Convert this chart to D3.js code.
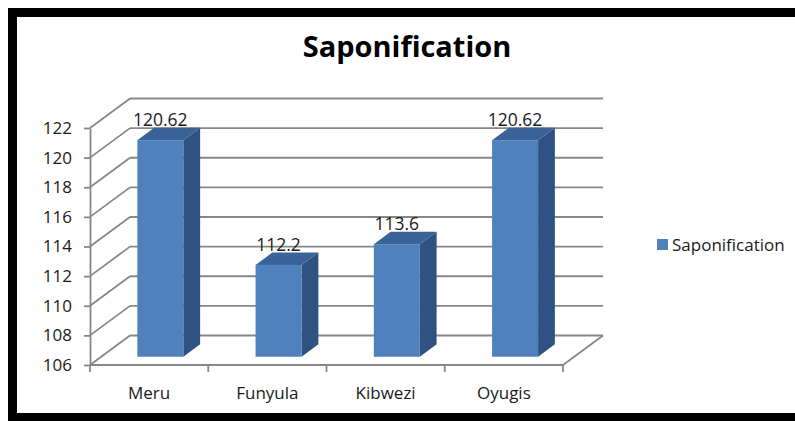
<!DOCTYPE html>
<html>
<head>
<meta charset="utf-8">
<script src="https://cdn.jsdelivr.net/npm/d3@7"></script>
<style>
  html, body { margin: 0; padding: 0; background: #fff; }
  svg { display: block; }
  text { font-family: "Open Sans", Lato, sans-serif; }
</style>
</head>
<body>
<svg id="chart" width="795" height="421"></svg>
<script>
// chart data
var categories = ['Meru', 'Funyula', 'Kibwezi', 'Oyugis'];
var values = [120.62, 112.2, 113.6, 120.62];
var valueLabels = ['120.62', '112.2', '113.6', '120.62'];
var yTicks = [106, 108, 110, 112, 114, 116, 118, 120, 122];
var seriesName = 'Saponification';
var chartTitle = 'Saponification';

var svg, x, y, depth, barFront, barBack, barWidth, gridColor, textColor, bars;

svg = d3.select('#chart');

// frame: thick black border on top, left and bottom
svg.append('rect').attr('x', 8).attr('y', 8).attr('width', 787).attr('height', 9).attr('fill', '#000');
svg.append('rect').attr('x', 8).attr('y', 8).attr('width', 9).attr('height', 413).attr('fill', '#000');
svg.append('rect').attr('x', 8).attr('y', 413).attr('width', 787).attr('height', 8).attr('fill', '#000');

// front plane scales
x = d3.scaleBand().domain(categories).range([90, 563]);
y = d3.scaleLinear().domain([106, 122]).range([365, 128]);

// full depth of the 3d box, and where bars sit inside it
depth = {dx: 40, dy: -29.5};
barFront = 0.28;
barBack = 0.70;
barWidth = 46;
gridColor = '#878787';
textColor = '#1a1a1a';

var walls = svg.append('g').attr('class', 'walls')
  .attr('stroke', gridColor).attr('stroke-width', 1.8).attr('fill', 'none');

// back wall gridlines
walls.selectAll('line.grid')
  .data(yTicks)
  .enter()
  .append('line')
  .attr('class', 'grid')
  .attr('x1', x.range()[0] + depth.dx)
  .attr('x2', x.range()[1] + depth.dx)
  .attr('y1', function (d) { return y(d) + depth.dy; })
  .attr('y2', function (d) { return y(d) + depth.dy; });

// side wall diagonals
walls.selectAll('line.side')
  .data(yTicks)
  .enter()
  .append('line')
  .attr('class', 'side')
  .attr('x1', x.range()[0])
  .attr('x2', x.range()[0] + depth.dx)
  .attr('y1', function (d) { return y(d); })
  .attr('y2', function (d) { return y(d) + depth.dy; });

// floor right edge
walls.append('line')
  .attr('x1', x.range()[1])
  .attr('x2', x.range()[1] + depth.dx)
  .attr('y1', y(106))
  .attr('y2', y(106) + depth.dy);

// y axis
var yAxis = svg.append('g')
  .attr('transform', 'translate(' + x.range()[0] + ',0)')
  .call(d3.axisLeft(y).tickValues(yTicks).tickSize(6).tickSizeOuter(0).tickPadding(12));
yAxis.selectAll('path, line').attr('stroke', gridColor).attr('stroke-width', 1.8);
yAxis.selectAll('text').attr('font-size', 17).attr('fill', textColor)
  .attr('font-family', '"Open Sans", sans-serif');

// x axis: line with ticks at band edges
var xAxis = svg.append('g').attr('class', 'x-axis');
xAxis.append('line')
  .attr('x1', x.range()[0]).attr('x2', x.range()[1])
  .attr('y1', y(106)).attr('y2', y(106))
  .attr('stroke', gridColor).attr('stroke-width', 1.8);
xAxis.selectAll('line.tick')
  .data(categories.map(function (d) { return x(d); }).concat([x.range()[1]]))
  .enter()
  .append('line')
  .attr('class', 'tick')
  .attr('x1', function (d) { return d; })
  .attr('x2', function (d) { return d; })
  .attr('y1', y(106))
  .attr('y2', y(106) + 7)
  .attr('stroke', gridColor).attr('stroke-width', 1.8);
xAxis.selectAll('text')
  .data(categories)
  .enter()
  .append('text')
  .attr('x', function (d) { return x(d) + x.bandwidth() / 2; })
  .attr('y', 399)
  .attr('text-anchor', 'middle')
  .attr('font-size', 17)
  .attr('fill', textColor)
  .text(function (d) { return d; });

// bars: front, side and top faces
bars = svg.append('g').attr('class', 'bars')
  .selectAll('g')
  .data(categories.map(function (c, i) { return {cat: c, value: values[i], label: valueLabels[i]}; }))
  .enter()
  .append('g');

function barGeom(d) {
  var xl, top, bottom, ddx, ddy;
  xl = x(d.cat) + (x.bandwidth() - barWidth) / 2 + barFront * depth.dx;
  top = y(d.value) + barFront * depth.dy;
  bottom = y(106) + barFront * depth.dy;
  ddx = (barBack - barFront) * depth.dx;
  ddy = (barBack - barFront) * depth.dy;
  return {xl: xl, xr: xl + barWidth, top: top, bottom: bottom, ddx: ddx, ddy: ddy};
}

bars.append('path')
  .attr('fill', '#2f5282')
  .attr('d', function (d) {
    var g = barGeom(d);
    return 'M' + g.xr + ',' + g.top + 'L' + (g.xr + g.ddx) + ',' + (g.top + g.ddy) +
      'L' + (g.xr + g.ddx) + ',' + (g.bottom + g.ddy) + 'L' + g.xr + ',' + g.bottom + 'Z';
  });

bars.append('path')
  .attr('fill', '#3a6398')
  .attr('d', function (d) {
    var g = barGeom(d);
    return 'M' + g.xl + ',' + g.top + 'L' + g.xr + ',' + g.top +
      'L' + (g.xr + g.ddx) + ',' + (g.top + g.ddy) + 'L' + (g.xl + g.ddx) + ',' + (g.top + g.ddy) + 'Z';
  });

bars.append('rect')
  .attr('fill', '#4f81bd')
  .attr('x', function (d) { return barGeom(d).xl; })
  .attr('y', function (d) { return barGeom(d).top; })
  .attr('width', barWidth)
  .attr('height', function (d) { var g = barGeom(d); return g.bottom - g.top; });

// data labels above each bar
bars.append('text')
  .attr('x', function (d) { var g = barGeom(d); return g.xl + barWidth / 2; })
  .attr('y', function (d) { var g = barGeom(d); return g.top + g.ddy - 2; })
  .attr('text-anchor', 'middle')
  .attr('font-size', 17.5)
  .attr('fill', textColor)
  .text(function (d) { return d.label; });

// title
svg.append('text')
  .attr('x', 407)
  .attr('y', 57)
  .attr('text-anchor', 'middle')
  .attr('font-size', 29)
  .attr('font-weight', 'bold')
  .attr('fill', '#000')
  .text(chartTitle);

// legend
var legend = svg.append('g').attr('transform', 'translate(657,239)');
legend.append('rect').attr('width', 11).attr('height', 11).attr('fill', '#4f81bd');
legend.append('text')
  .attr('x', 15)
  .attr('y', 11.5)
  .attr('font-size', 17)
  .attr('fill', textColor)
  .text(seriesName);
</script>
</body>
</html>
